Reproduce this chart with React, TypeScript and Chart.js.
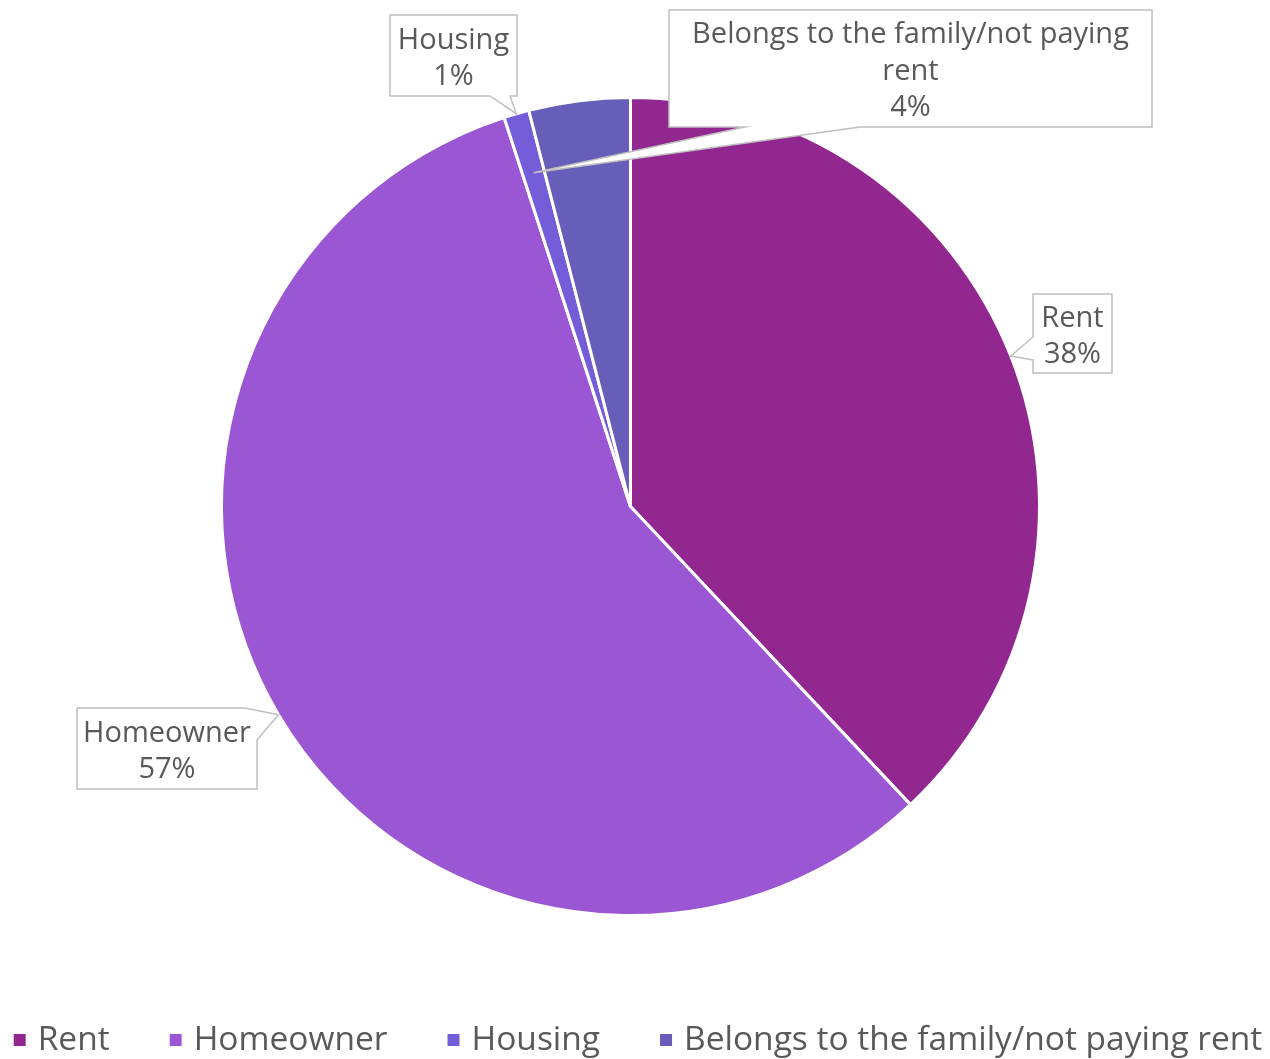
import React, { useEffect, useRef } from "react";
import { Chart, registerables } from "chart.js";

Chart.register(...registerables);

// ---- data ----
const categories = ["Rent", "Homeowner", "Housing", "Belongs to the family/not paying rent"];
const values = [38, 57, 1, 4];
const colors = ["#92278F", "#9B57D3", "#755DD9", "#665EB8"];
// wrapped category text as shown inside the callouts
const calloutTitles = [["Rent"], ["Homeowner"], ["Housing"], ["Belongs to the family/not paying", "rent"]];

// ---- callout layout (box: left, top, width, height) ----
type Callout = {
  box: [number, number, number, number];
  edge: "bottom" | "left" | "topright";
  base: [number, number];
  tipArc: number;
  tipR: number;
};
const callouts: Callout[] = [
  { box: [1033, 294, 79, 79], edge: "left", base: [337, 360], tipArc: 0, tipR: 1 },
  { box: [77, 708, 180, 81], edge: "topright", base: [245, 740], tipArc: 1, tipR: 1 },
  { box: [390, 15, 127, 81], edge: "bottom", base: [490, 510], tipArc: 2, tipR: 1 },
  { box: [669, 10, 483, 117], edge: "bottom", base: [745, 860], tipArc: 2, tipR: 0.85 },
];

const TEXT_COLOR = "#595959";
const FONT_FAMILY = "'Open Sans', 'Noto Sans', sans-serif";

const calloutPlugin = {
  id: "callouts",
  afterDatasetsDraw(chart: any) {
    const ctx = chart.ctx as CanvasRenderingContext2D;
    const meta = chart.getDatasetMeta(0);
    const total = values.reduce((a, b) => a + b, 0);
    callouts.forEach((c, i) => {
      const arc = meta.data[c.tipArc] as any;
      const p = arc.getProps(["x", "y", "startAngle", "endAngle", "outerRadius"], true);
      const mid = (p.startAngle + p.endAngle) / 2;
      const r = p.outerRadius * c.tipR;
      const tip = [p.x + Math.cos(mid) * r, p.y + Math.sin(mid) * r];
      const [L, T, W, H] = c.box;
      const R = L + W;
      const B = T + H;
      let pts: number[][] = [];
      if (c.edge === "bottom") {
        pts = [[L, T], [R, T], [R, B], [c.base[1], B], tip, [c.base[0], B], [L, B]];
      } else if (c.edge === "left") {
        pts = [[L, T], [R, T], [R, B], [L, B], [L, c.base[1]], tip, [L, c.base[0]]];
      } else {
        pts = [[L, T], [c.base[0], T], tip, [R, c.base[1]], [R, B], [L, B]];
      }
      ctx.save();
      ctx.beginPath();
      pts.forEach((pt, k) => (k === 0 ? ctx.moveTo(pt[0], pt[1]) : ctx.lineTo(pt[0], pt[1])));
      ctx.closePath();
      ctx.fillStyle = "#FFFFFF";
      ctx.fill();
      ctx.strokeStyle = "#BFBFBF";
      ctx.lineWidth = 1.5;
      ctx.stroke();

      const lines = [...calloutTitles[i], Math.round((values[i] / total) * 100) + "%"];
      const lh = 36.5;
      ctx.font = `29px ${FONT_FAMILY}`;
      ctx.fillStyle = TEXT_COLOR;
      ctx.textAlign = "center";
      ctx.textBaseline = "middle";
      const cx = L + W / 2;
      const cy = T + H / 2 + 3;
      lines.forEach((ln, k) => {
        ctx.fillText(ln, cx, cy + (k - (lines.length - 1) / 2) * lh);
      });
      ctx.restore();
    });
  },
};

const legendPlugin = {
  id: "customLegend",
  afterDraw(chart: any) {
    const ctx = chart.ctx as CanvasRenderingContext2D;
    ctx.save();
    ctx.font = `33.5px ${FONT_FAMILY}`;
    const box = 12;
    const gapText = 12;
    const gapItem = 60;
    const widths = categories.map((c) => ctx.measureText(c).width);
    const total =
      widths.reduce((a, w) => a + box + gapText + w, 0) + gapItem * (categories.length - 1);
    let x = 638 - total / 2;
    const y = 1040;
    categories.forEach((c, i) => {
      ctx.fillStyle = colors[i];
      ctx.fillRect(x, y - box / 2, box, box);
      ctx.fillStyle = TEXT_COLOR;
      ctx.textAlign = "left";
      ctx.textBaseline = "middle";
      ctx.fillText(c, x + box + gapText, y);
      x += box + gapText + widths[i] + gapItem;
    });
    ctx.restore();
  },
};

export default function App() {
  const ref = useRef<HTMLCanvasElement | null>(null);
  useEffect(() => {
    if (!ref.current) return;
    const chart = new Chart(ref.current, {
      type: "pie",
      data: {
        labels: categories,
        datasets: [
          {
            data: values,
            backgroundColor: colors,
            borderColor: "#FFFFFF",
            borderWidth: 3,
          },
        ],
      },
      options: {
        responsive: false,
        animation: false,
        layout: { padding: { top: 96, bottom: 142, left: 220, right: 229 } },
        plugins: {
          legend: { display: false },
          tooltip: { enabled: false },
        },
      },
      plugins: [calloutPlugin, legendPlugin],
    });
    return () => chart.destroy();
  }, []);
  return (
    <div style={{ position: "absolute", left: 0, top: 0, width: 1270, height: 1059, background: "#fff" }}>
      <canvas ref={ref} width={1270} height={1059} style={{ display: "block" }} />
    </div>
  );
}
